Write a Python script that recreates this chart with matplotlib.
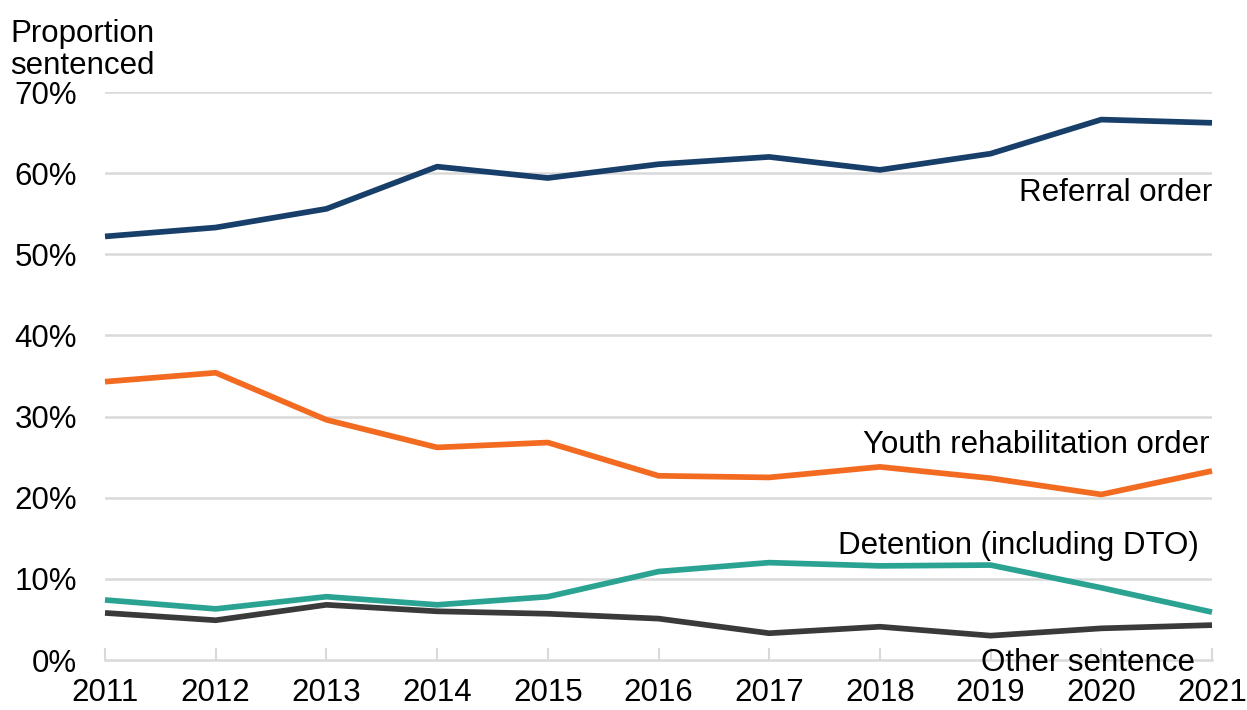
import matplotlib
matplotlib.use("Agg")
import matplotlib.pyplot as plt

years = [2011, 2012, 2013, 2014, 2015, 2016, 2017, 2018, 2019, 2020, 2021]
referral = [52.2, 53.3, 55.6, 60.8, 59.4, 61.1, 62.0, 60.4, 62.4, 66.6, 66.2]
youth_rehab = [34.3, 35.4, 29.6, 26.2, 26.8, 22.7, 22.5, 23.8, 22.4, 20.4, 23.3]
detention = [7.4, 6.3, 7.8, 6.8, 7.8, 10.9, 12.0, 11.6, 11.7, 8.9, 5.9]
other = [5.8, 4.9, 6.8, 6.0, 5.7, 5.1, 3.3, 4.1, 3.0, 3.9, 4.3]
yticks = [0, 10, 20, 30, 40, 50, 60, 70]
ytick_labels = ["0%", "10%", "20%", "30%", "40%", "50%", "60%", "70%"]

plt.rcParams['font.family'] = ['Liberation Sans', 'DejaVu Sans']
FS = 22.5

fig = plt.figure(figsize=(12.47, 7.10), dpi=100)
ax = fig.add_axes([105/1247, 1-660/710, (1212-105)/1247, (660-92)/710])

ax.set_xlim(2011, 2021)
ax.set_ylim(0, 70)
ax.set_yticks(yticks)
ax.set_yticklabels(ytick_labels)
ax.set_xticks(years)
ax.set_xticklabels([str(y) for y in years])

for y in yticks[1:]:
    ax.axhline(y, color="#D9D9D9", lw=1.8, zorder=0)
ax.axhline(0, color="#D9D9D9", lw=1.8, zorder=0, clip_on=False)

for s in ax.spines.values():
    s.set_visible(False)

ax.tick_params(axis='y', length=0, labelsize=FS, pad=20, colors='black')
ax.tick_params(axis='x', direction='in', length=9, width=1.5, color="#D9D9D9",
               labelsize=FS, pad=13)

lw = 4.1
ax.plot(years, referral, color="#173F6A", lw=lw, clip_on=False, solid_capstyle='butt')
ax.plot(years, youth_rehab, color="#F26B21", lw=lw, clip_on=False, solid_capstyle='butt')
ax.plot(years, detention, color="#2BA393", lw=lw, clip_on=False, solid_capstyle='butt')
ax.plot(years, other, color="#3A3A3A", lw=lw, clip_on=False, solid_capstyle='butt')

def lbl(x, y, t):
    ax.text(x, y, t, ha='right', va='center', fontsize=FS, color='black')

lbl(2021.0, 57.6, "Referral order")
lbl(2020.98, 26.5, "Youth rehabilitation order")
lbl(2020.88, 14.0, "Detention (including DTO)")
lbl(2020.85, -0.4, "Other sentence")

fig.text(10/1247, 1-19/710, "Proportion\nsentenced", ha='left', va='top',
         fontsize=FS, linespacing=1.1)

fig.savefig("out.png", dpi=100)
